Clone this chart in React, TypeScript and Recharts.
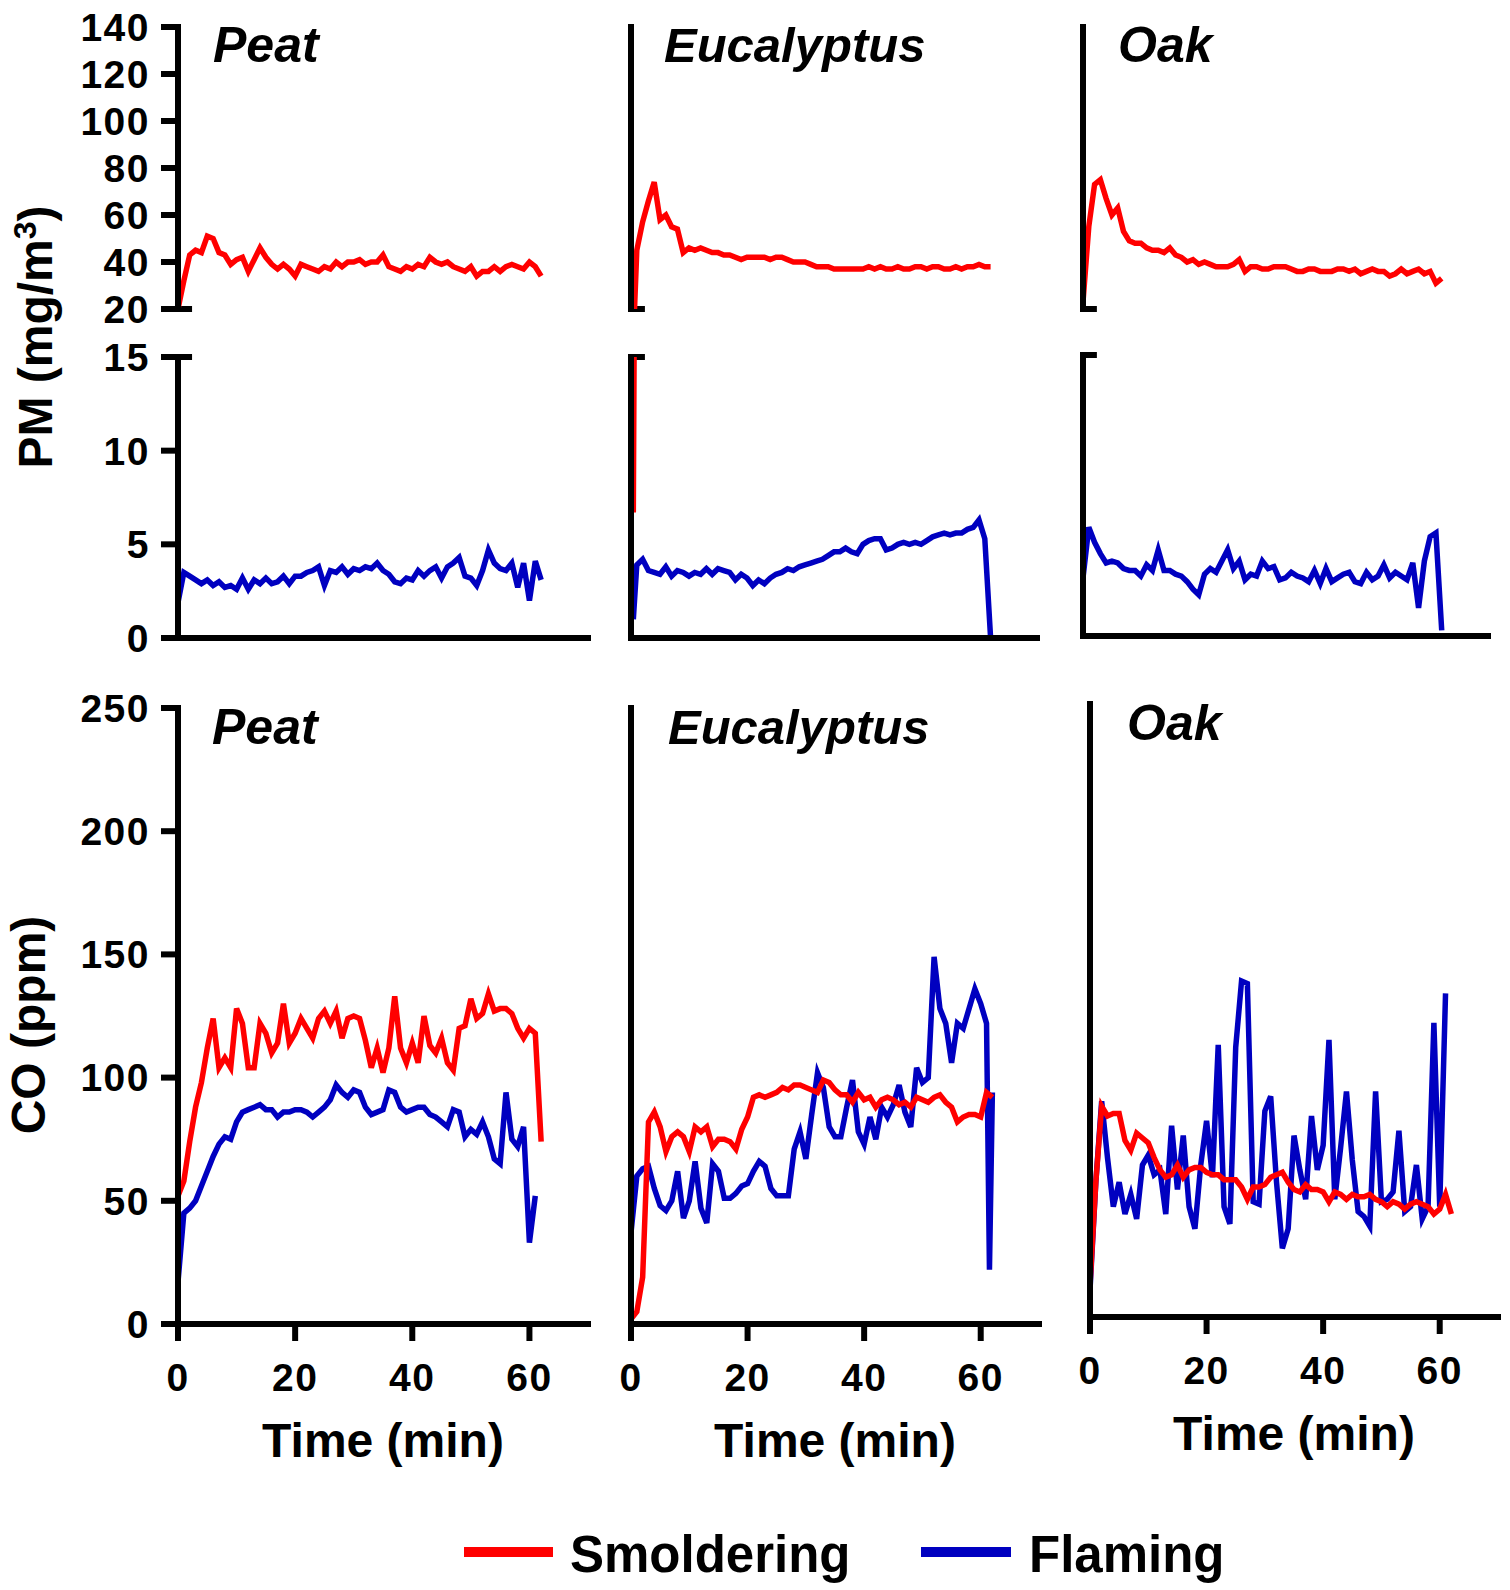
import React from 'react';
import { LineChart, Line, XAxis, YAxis, ReferenceLine } from 'recharts';

// ─── Style ────────────────────────────────────────────────────────────────────

const FONT = '"Liberation Sans", Arial, Helvetica, sans-serif';
const RED = '#ff0000';
const BLUE = '#0000c0';
const INK = '#000000';
const AXIS_STROKE = 6;
const LINE_STROKE = 5.5;

// ─── Axes ─────────────────────────────────────────────────────────────────────

const TIME = [
  0, 1, 2, 3, 4, 5, 6, 7, 8, 9, 10, 11, 12, 13, 14, 15, 16, 17, 18, 19, 20, 21, 22, 23, 24, 25, 26, 27, 28, 29, 30,
  31, 32, 33, 34, 35, 36, 37, 38, 39, 40, 41, 42, 43, 44, 45, 46, 47, 48, 49, 50, 51, 52, 53, 54, 55, 56, 57, 58, 59,
  60, 61, 62,
];
// eucalyptus PM logging started a little after t = 0
const TIME_EUC_PM = [
  0.4, 1, 2, 3, 4, 5, 6, 7, 8, 9, 10, 11, 12, 13, 14, 15, 16, 17, 18, 19, 20, 21, 22, 23, 24, 25, 26, 27, 28, 29, 30,
  31, 32, 33, 34, 35, 36, 37, 38, 39, 40, 41, 42, 43, 44, 45, 46, 47, 48, 49, 50, 51, 52, 53, 54, 55, 56, 57, 58, 59,
  60, 61, 62,
];
const TIME_EUC_CO = [
  0, 1, 2, 3, 4, 5, 6, 7, 8, 9, 10, 11, 12, 13, 14, 15, 16, 17, 18, 19, 20, 21, 22, 23, 24, 25, 26, 27, 28, 29, 30,
  31, 32, 33, 34, 35, 36, 37, 38, 39, 40, 41, 42, 43, 44, 45, 46, 47, 48, 49, 50, 51, 52, 53, 54, 55, 56, 57, 58, 59,
  60, 61, 61.5, 62,
];

const X_TICKS = [0, 20, 40, 60];
const PM_HIGH_TICKS = [20, 40, 60, 80, 100, 120, 140];
const PM_LOW_TICKS = [0, 5, 10, 15];
const CO_TICKS = [0, 50, 100, 150, 200, 250];

// ─── PM (mg/m3) ───────────────────────────────────────────────────────────────

const PEAT_PM_SMOLDERING = [
  20, 32, 43, 45, 44, 51, 50, 44, 43, 39, 41, 42, 36, 41, 46, 42, 39, 37, 39, 37, 34, 39, 38, 37, 36, 38, 37, 40, 38, 40,
  40, 41, 39, 40, 40, 43, 38, 37, 36, 38, 37, 39, 38, 42, 40, 39, 40, 38, 37, 36, 38, 34, 36, 36, 38, 36, 38, 39, 38, 37,
  40, 38, 34,
];
const PEAT_PM_FLAMING = [
  1.9, 3.5, 3.3, 3.1, 2.9, 3.1, 2.8, 3.0, 2.7, 2.8, 2.6, 3.2, 2.6, 3.1, 2.9, 3.2, 2.9, 3.0, 3.3, 2.9, 3.3, 3.3, 3.5, 3.6,
  3.8, 2.8, 3.6, 3.5, 3.8, 3.4, 3.7, 3.6, 3.8, 3.7, 4.0, 3.6, 3.4, 3.0, 2.9, 3.2, 3.1, 3.6, 3.3, 3.6, 3.8, 3.2, 3.8, 4.0,
  4.3, 3.3, 3.2, 2.8, 3.6, 4.7, 4.0, 3.7, 3.6, 4.0, 2.7, 4.0, 2.0, 4.1, 3.1,
];

const EUC_PM_SMOLDERING = [
  6.7, 45, 57, 66, 74, 58, 60, 55, 54, 44, 46, 45, 46, 45, 44, 44, 43, 43, 42, 41, 42, 42, 42, 42, 41, 42, 42, 41, 40, 40,
  40, 39, 38, 38, 38, 37, 37, 37, 37, 37, 37, 38, 37, 38, 37, 37, 38, 37, 37, 38, 38, 37, 38, 38, 37, 37, 38, 37, 38, 38,
  39, 38, 38,
];
const EUC_PM_FLAMING = [
  1.0, 3.9, 4.2, 3.6, 3.5, 3.4, 3.8, 3.3, 3.6, 3.5, 3.3, 3.5, 3.4, 3.7, 3.4, 3.7, 3.6, 3.5, 3.1, 3.4, 3.2, 2.8, 3.1, 2.9,
  3.2, 3.4, 3.5, 3.7, 3.6, 3.8, 3.9, 4.0, 4.1, 4.2, 4.4, 4.6, 4.6, 4.8, 4.6, 4.5, 5.0, 5.2, 5.3, 5.3, 4.7, 4.8, 5.0, 5.1,
  5.0, 5.1, 5.0, 5.2, 5.4, 5.5, 5.6, 5.5, 5.6, 5.6, 5.8, 5.9, 6.3, 5.3, 0,
];

const OAK_PM_SMOLDERING = [
  23, 55, 73, 75, 67, 60, 63, 53, 49, 48, 48, 46, 45, 45, 44, 46, 43, 42, 40, 41, 39, 40, 39, 38, 38, 38, 39, 41, 36, 38,
  38, 37, 37, 38, 38, 38, 37, 36, 36, 37, 37, 36, 36, 36, 37, 37, 36, 37, 35, 36, 37, 36, 36, 34, 35, 37, 35, 36, 37, 35,
  36, 31, 33,
];
const OAK_PM_FLAMING = [
  3.1, 5.8, 5.0, 4.4, 3.9, 4.0, 3.9, 3.6, 3.5, 3.5, 3.2, 3.8, 3.5, 4.6, 3.5, 3.5, 3.3, 3.2, 2.9, 2.5, 2.2, 3.3, 3.6, 3.4,
  4.0, 4.6, 3.6, 4.0, 3.0, 3.3, 3.2, 4.0, 3.6, 3.7, 3.0, 3.1, 3.4, 3.2, 3.1, 2.9, 3.5, 2.8, 3.6, 2.9, 3.1, 3.3, 3.4, 2.9,
  2.8, 3.4, 3.0, 3.2, 3.8, 3.1, 3.4, 3.2, 3.0, 3.9, 1.5, 4.0, 5.3, 5.5, 0.3,
];

// ─── CO (ppm) ─────────────────────────────────────────────────────────────────

const PEAT_CO_SMOLDERING = [
  52, 58, 74, 88, 98, 112, 124, 104, 108, 104, 128, 122, 104, 104, 122, 118, 110, 114, 130, 114, 118, 124, 120, 116, 124,
  127, 122, 127, 116, 124, 125, 124, 115, 104, 112, 102, 112, 133, 112, 106, 114, 106, 125, 113, 110, 116, 106, 103, 120,
  121, 132, 124, 126, 134, 127, 128, 128, 126, 120, 116, 120, 118, 74,
];
const PEAT_CO_FLAMING = [
  17, 45, 47, 50, 56, 62, 68, 73, 76, 75, 82, 86, 87, 88, 89, 87, 87, 84, 86, 86, 87, 87, 86, 84, 86, 88, 91, 97, 94, 92,
  95, 94, 88, 85, 86, 87, 95, 94, 88, 86, 87, 88, 88, 85, 84, 82, 80, 87, 86, 76, 79, 77, 82, 76, 67, 65, 94, 75, 72, 80,
  33, 52, null,
];

const EUC_CO_SMOLDERING = [
  2, 5, 19, 82, 86, 80, 70, 76, 78, 76, 70, 80, 78, 80, 72, 75, 75, 74, 71, 79, 84, 92, 93, 92, 93, 94, 96, 95, 97, 97, 96,
  95, 94, 99, 98, 95, 93, 93, 90, 94, 91, 92, 88, 91, 92, 91, 89, 90, 88, 92, 91, 90, 92, 93, 90, 88, 82, 84, 85, 85, 84,
  94, 93, 92,
];
const EUC_CO_FLAMING = [
  37, 60, 63, 64, 55, 48, 46, 50, 62, 43, 50, 66, 47, 41, 65, 62, 51, 51, 53, 56, 57, 62, 66, 64, 55, 52, 52, 52, 71, 78,
  67, 85, 102, 96, 80, 76, 76, 88, 99, 78, 73, 84, 75, 88, 84, 89, 97, 86, 80, 104, 98, 100, 149, 128, 122, 106, 122, 120,
  128, 136, 130, 122, 22, 94,
];

const OAK_CO_SMOLDERING = [
  13, 55, 86, 82, 83, 83, 72, 68, 75, 73, 71, 65, 60, 57, 58, 62, 57, 60, 61, 61, 59, 58, 58, 56, 56, 56, 53, 48, 53, 53,
  54, 57, 58, 59, 55, 52, 51, 54, 52, 52, 51, 47, 51, 50, 48, 50, 49, 49, 50, 48, 47, 45, 47, 46, 44, 46, 47, 46, 45, 42,
  44, 50, 42,
];
const OAK_CO_FLAMING = [
  11, 55, 88, 65, 45, 55, 42, 50, 40, 62, 66, 58, 60, 42, 78, 52, 74, 45, 36, 62, 80, 57, 111, 45, 38, 110, 137, 136, 47,
  46, 84, 90, 55, 28, 36, 74, 60, 48, 82, 60, 70, 113, 48, 69, 92, 64, 43, 41, 37, 92, 47, 48, 51, 76, 43, 45, 62, 40, 45,
  120, 45, 132, null,
];

// ─── Helpers ──────────────────────────────────────────────────────────────────

type Row = { t: number; smoldering: number | null; flaming: number | null };

function toRows(time: number[], smoldering: (number | null)[], flaming: (number | null)[]): Row[] {
  return time.map((t, i) => ({ t, smoldering: smoldering[i] ?? null, flaming: flaming[i] ?? null }));
}

const tickText = { fill: INK, fontSize: 39, fontWeight: 700, fontFamily: FONT, letterSpacing: 1.5 };
const inkLine = { stroke: INK, strokeWidth: AXIS_STROKE };

// ─── Panel ────────────────────────────────────────────────────────────────────

interface PanelProps {
  axisX: number;
  plotTop: number;
  plotW: number;
  plotH: number;
  domain: [number, number];
  ticks: number[];
  showYLabels: boolean;
  xMode: 'none' | 'ticks' | 'labels';
  rows: Row[];
  /** value where the broken axis gets a short stub to the right */
  breakAt?: number;
}

function Panel({ axisX, plotTop, plotW, plotH, domain, ticks, showYLabels, xMode, rows, breakAt }: PanelProps) {
  const mt = 24;
  const mr = 24;
  const mb = xMode === 'none' ? 28 : 6;
  const yW = showYLabels ? axisX - 4 : 40;
  const xH = xMode === 'labels' ? 80 : xMode === 'ticks' ? 26 : 0;
  const width = yW + plotW + mr;
  const height = mt + plotH + xH + mb;

  return (
    <div style={{ position: 'absolute', left: axisX - yW, top: plotTop - mt }}>
      <LineChart width={width} height={height} data={rows} margin={{ top: mt, right: mr, bottom: mb, left: 0 }}>
        <XAxis
          dataKey="t"
          type="number"
          domain={[0, 70]}
          ticks={X_TICKS}
          interval={0}
          hide={xMode === 'none'}
          height={xH}
          stroke={INK}
          strokeWidth={AXIS_STROKE}
          axisLine={{ ...inkLine, strokeLinecap: 'square' }}
          tickLine={inkLine}
          tickSize={17}
          tickMargin={22}
          tick={xMode === 'labels' ? tickText : false}
        />
        <YAxis
          type="number"
          domain={domain}
          ticks={ticks}
          interval={0}
          allowDataOverflow
          width={yW}
          stroke={INK}
          strokeWidth={AXIS_STROKE}
          axisLine={{ ...inkLine, strokeLinecap: 'square' }}
          tickLine={inkLine}
          tickSize={17}
          tickMargin={11}
          tick={showYLabels ? tickText : false}
        />
        {breakAt !== undefined && (
          <ReferenceLine
            segment={[
              { x: 0, y: breakAt },
              { x: 2.4, y: breakAt },
            ]}
            stroke={INK}
            strokeWidth={AXIS_STROKE}
            ifOverflow="visible"
          />
        )}
        <Line
          type="linear"
          dataKey="flaming"
          stroke={BLUE}
          strokeWidth={LINE_STROKE}
          dot={false}
          activeDot={false}
          isAnimationActive={false}
        />
        <Line
          type="linear"
          dataKey="smoldering"
          stroke={RED}
          strokeWidth={LINE_STROKE}
          dot={false}
          activeDot={false}
          isAnimationActive={false}
        />
      </LineChart>
    </div>
  );
}

// ─── Columns ──────────────────────────────────────────────────────────────────

const COLUMNS = [
  {
    name: 'Peat',
    pmX: 178, pmW: 410, coX: 178, coW: 410, coTop: 708, coH: 616, lowTop: 357,
    pm: toRows(TIME, PEAT_PM_SMOLDERING, PEAT_PM_FLAMING),
    co: toRows(TIME, PEAT_CO_SMOLDERING, PEAT_CO_FLAMING),
  },
  {
    name: 'Eucalyptus',
    pmX: 631, pmW: 406, coX: 631, coW: 408, coTop: 708, coH: 616, lowTop: 357,
    pm: toRows(TIME_EUC_PM, EUC_PM_SMOLDERING, EUC_PM_FLAMING),
    co: toRows(TIME_EUC_CO, EUC_CO_SMOLDERING, EUC_CO_FLAMING),
  },
  {
    name: 'Oak',
    pmX: 1083, pmW: 405, coX: 1090, coW: 408, coTop: 704, coH: 613, lowTop: 355,
    pm: toRows(TIME, OAK_PM_SMOLDERING, OAK_PM_FLAMING),
    co: toRows(TIME, OAK_CO_SMOLDERING, OAK_CO_FLAMING),
  },
];

// ─── Component ────────────────────────────────────────────────────────────────

export default function App() {
  return (
    <div style={{ position: 'relative', width: 1510, height: 1590, background: '#fff', overflow: 'hidden' }}>
      <style>{'body{margin:0;}'}</style>

      {COLUMNS.map((c, i) => (
        <React.Fragment key={c.name}>
          <Panel
            axisX={c.pmX}
            plotTop={27}
            plotW={c.pmW}
            plotH={282}
            domain={[20, 140]}
            ticks={PM_HIGH_TICKS}
            showYLabels={i === 0}
            xMode="none"
            rows={c.pm}
            breakAt={20}
          />
          <Panel
            axisX={c.pmX}
            plotTop={c.lowTop}
            plotW={c.pmW}
            plotH={281}
            domain={[0, 15]}
            ticks={PM_LOW_TICKS}
            showYLabels={i === 0}
            xMode="ticks"
            rows={c.pm}
            breakAt={15}
          />
          <Panel
            axisX={c.coX}
            plotTop={c.coTop}
            plotW={c.coW}
            plotH={c.coH}
            domain={[0, 250]}
            ticks={CO_TICKS}
            showYLabels={i === 0}
            xMode="labels"
            rows={c.co}
          />
        </React.Fragment>
      ))}

      <svg
        width={1510}
        height={1590}
        style={{ position: 'absolute', left: 0, top: 0, pointerEvents: 'none' }}
        fontFamily={FONT}
        fontWeight={700}
        fill={INK}
      >
        {/* panel titles */}
        <g fontStyle="italic" fontSize={50}>
          <text x={213} y={62}>Peat</text>
          <text x={664} y={62} fontSize={49}>Eucalyptus</text>
          <text x={1118} y={62}>Oak</text>
          <text x={212} y={744}>Peat</text>
          <text x={668} y={744} fontSize={49}>Eucalyptus</text>
          <text x={1127} y={740}>Oak</text>
        </g>

        {/* y axis titles */}
        <text transform="translate(52,337) rotate(-90)" textAnchor="middle" fontSize={48}>
          PM (mg/m
          <tspan dy={-16} fontSize={32}>
            3
          </tspan>
          <tspan dy={16}>)</tspan>
        </text>
        <text transform="translate(45,1025) rotate(-90)" textAnchor="middle" fontSize={48}>
          CO (ppm)
        </text>

        {/* x axis titles */}
        <g fontSize={48} textAnchor="middle">
          <text x={383} y={1457}>Time (min)</text>
          <text x={835} y={1457}>Time (min)</text>
          <text x={1294} y={1450}>Time (min)</text>
        </g>

        {/* legend */}
        <line x1={464} x2={553} y1={1552} y2={1552} stroke={RED} strokeWidth={10} />
        <text x={570} y={1572} fontSize={51}>Smoldering</text>
        <line x1={921} x2={1011} y1={1552} y2={1552} stroke={BLUE} strokeWidth={10} />
        <text x={1029} y={1572} fontSize={51}>Flaming</text>
      </svg>
    </div>
  );
}
